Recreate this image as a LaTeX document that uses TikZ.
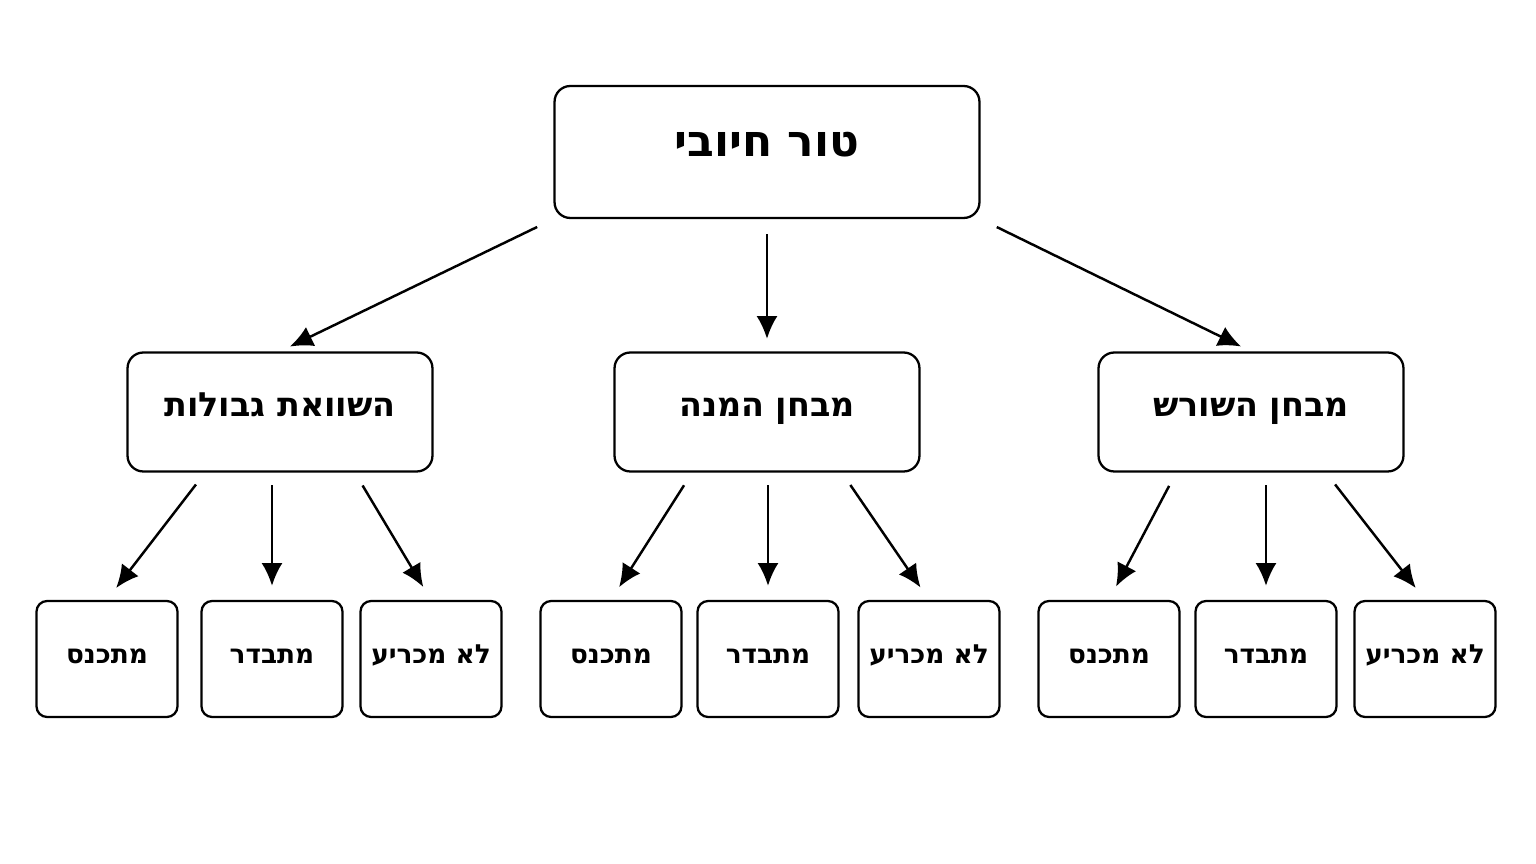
\documentclass[tikz,border=0pt]{standalone}
\usepackage{fontspec}
\setmainfont{DejaVu Sans}
\TeXXeTstate=1
\newcommand{\heb}[1]{\beginR #1\endR}
\usetikzlibrary{arrows.meta}

\begin{document}
\begin{tikzpicture}[x=0.02cm,y=-0.02cm]
\tikzstyle{box}=[draw,line width=1.3pt,rounded corners=9pt,fill=white,text height=0.75em,text depth=0.22em]
\tikzstyle{root}=[box,minimum width=8.5cm,minimum height=2.64cm,font=\fontsize{25}{30}\selectfont\bfseries]
\tikzstyle{test}=[box,minimum width=6.1cm,minimum height=2.38cm,font=\fontsize{19}{23}\selectfont\bfseries]
\tikzstyle{leaf}=[box,rounded corners=6pt,minimum width=2.82cm,minimum height=2.32cm,font=\fontsize{15}{18}\selectfont\bfseries]
\tikzstyle{arr}=[-{Latex[length=13pt,width=12pt]},line width=1.4pt]
\useasboundingbox (0,0) rectangle (1536,864);

\node[root] (r) at (767,152) {\heb{טור חיובי}};
\node[test] (cmp) at (280,412) {\heb{השוואת גבולות}};
\node[test] (rat) at (767,412) {\heb{מבחן המנה}};
\node[test] (rt) at (1251,412) {\heb{מבחן השורש}};

\node[leaf] (cmp1) at (107,659) {\heb{מתכנס}};
\node[leaf] (cmp2) at (272,659) {\heb{מתבדר}};
\node[leaf] (cmp3) at (431,659) {\heb{לא מכריע}};
\node[leaf] (rat1) at (611,659) {\heb{מתכנס}};
\node[leaf] (rat2) at (768,659) {\heb{מתבדר}};
\node[leaf] (rat3) at (929,659) {\heb{לא מכריע}};
\node[leaf] (rt1) at (1109,659) {\heb{מתכנס}};
\node[leaf] (rt2) at (1266,659) {\heb{מתבדר}};
\node[leaf] (rt3) at (1425,659) {\heb{לא מכריע}};

% top level
\draw[arr,shorten <=0.36cm,shorten >=0.22cm] (r.south west) -- (cmp.north);
\draw[arr,shorten <=0.3cm,shorten >=0.25cm] (r.south) -- (rat.north);
\draw[arr,shorten <=0.36cm,shorten >=0.22cm] (r.south east) -- (rt.north);

% leaves
\foreach \p in {cmp,rat,rt}{
  \draw[arr,shorten <=0.3cm,shorten >=0.3cm] (\p.219) -- (\p1.north);
  \draw[arr,shorten <=0.25cm,shorten >=0.28cm] (\p.south -| \p2) -- (\p2.north);
  \draw[arr,shorten <=0.3cm,shorten >=0.3cm] (\p.321) -- (\p3.north);
}
\end{tikzpicture}
\end{document}
